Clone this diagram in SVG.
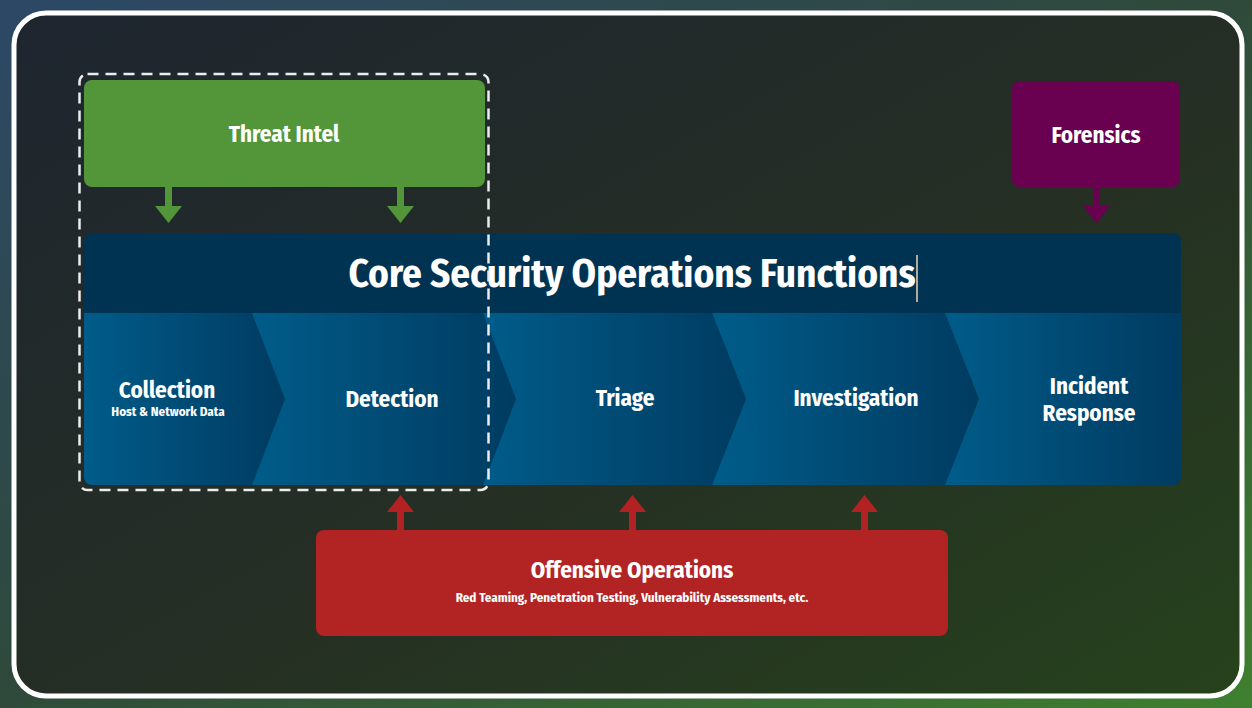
<svg xmlns="http://www.w3.org/2000/svg" width="1252" height="708" viewBox="0 0 1252 708">
  <defs>
    <linearGradient id="bgOuter" x1="0" y1="0" x2="1" y2="1">
      <stop offset="0" stop-color="#2d4866"/>
      <stop offset="0.5" stop-color="#2f4a3a"/>
      <stop offset="1" stop-color="#3f8030"/>
    </linearGradient>
    <linearGradient id="bgInner" x1="0" y1="0" x2="1" y2="1">
      <stop offset="0" stop-color="#1e2530"/>
      <stop offset="0.55" stop-color="#252f24"/>
      <stop offset="1" stop-color="#26421c"/>
    </linearGradient>
    <linearGradient id="stage" x1="0" y1="0" x2="1" y2="0">
      <stop offset="0" stop-color="#005c89"/>
      <stop offset="1" stop-color="#003b61"/>
    </linearGradient>
    <clipPath id="coreClip">
      <rect x="84" y="233" width="1097" height="252" rx="8"/>
    </clipPath>
  </defs>
  <style>
    .lbl { font-family: "Fira Sans Condensed", "Lato", "Open Sans", sans-serif; font-weight: 700; fill: #ffffff; text-anchor: middle; }
    .big { font-size: 23px; }
    .small { font-size: 13px; }
    .title { font-size: 39px; }
    .stage { fill: url(#stage); }
  </style>

  <!-- backdrop and white frame -->
  <rect x="0" y="0" width="1252" height="708" fill="url(#bgOuter)"/>
  <rect x="14" y="13" width="1228" height="683" rx="32" fill="url(#bgInner)" stroke="#ffffff" stroke-width="5"/>

  <!-- connectors -->
  <g id="connectors">
    <!-- Threat Intel feeds -->
    <rect x="165" y="186" width="7" height="21" fill="#53963a"/>
    <path d="M155,206 L182,206 L168.5,223 Z" fill="#53963a"/>
    <rect x="397" y="186" width="7" height="21" fill="#53963a"/>
    <path d="M387,206 L414,206 L400.5,223 Z" fill="#53963a"/>
    <!-- Forensics feed -->
    <rect x="1093" y="186" width="7" height="21" fill="#690050"/>
    <path d="M1083,206 L1110,206 L1096.5,223 Z" fill="#690050"/>
    <!-- Offensive Operations feeds -->
    <rect x="397" y="511" width="7" height="20" fill="#b22222"/>
    <path d="M387,512 L414,512 L400.5,495 Z" fill="#b22222"/>
    <rect x="629" y="511" width="7" height="20" fill="#b22222"/>
    <path d="M619,512 L646,512 L632.5,495 Z" fill="#b22222"/>
    <rect x="861" y="511" width="7" height="20" fill="#b22222"/>
    <path d="M851,512 L878,512 L864.5,495 Z" fill="#b22222"/>
  </g>

  <!-- core functions block -->
  <g id="core">
    <rect x="84" y="233" width="1097" height="252" rx="8" fill="#003352"/>
    <text class="lbl title" x="632" y="287">Core Security Operations Functions</text>
    <line x1="917" y1="255" x2="917" y2="302" stroke="#e6d6bf" stroke-width="1.5"/>
    <g clip-path="url(#coreClip)">
      <g id="stage-collection">
        <polygon class="stage" points="84,313 252,313 285,399 252,485 84,485"/>
        <text class="lbl big" x="167" y="398">Collection</text>
        <text class="lbl small" x="168" y="416">Host &amp; Network Data</text>
      </g>
      <g id="stage-detection">
        <polygon class="stage" points="252,313 483,313 516,399 483,485 252,485 285,399"/>
        <text class="lbl big" x="392" y="407">Detection</text>
      </g>
      <g id="stage-triage">
        <polygon class="stage" points="483,313 712,313 746,399 712,485 483,485 516,399"/>
        <text class="lbl big" x="625" y="406">Triage</text>
      </g>
      <g id="stage-investigation">
        <polygon class="stage" points="712,313 945,313 979,399 945,485 712,485 746,399"/>
        <text class="lbl big" x="856" y="406">Investigation</text>
      </g>
      <g id="stage-incident-response">
        <polygon class="stage" points="945,313 1181,313 1181,485 945,485 979,399"/>
        <text class="lbl big" x="1089" y="394">Incident</text>
        <text class="lbl big" x="1089" y="421">Response</text>
      </g>
    </g>
  </g>

  <!-- threat intel box -->
  <g id="threat-intel">
    <rect x="84" y="80" width="401" height="107" rx="8" fill="#53963a"/>
    <text class="lbl big" x="284" y="142">Threat Intel</text>
  </g>

  <!-- dashed grouping round Threat Intel, Collection and Detection -->
  <g id="intel-scope">
    <rect x="79.5" y="74" width="409" height="416" rx="8" fill="none" stroke="#ececec" stroke-width="2.5" stroke-dasharray="11 7"/>
  </g>

  <!-- forensics box -->
  <g id="forensics">
    <rect x="1012" y="81" width="168" height="106" rx="8" fill="#690050"/>
    <text class="lbl big" x="1096" y="143">Forensics</text>
  </g>

  <!-- offensive operations box -->
  <g id="offensive-operations">
    <rect x="316" y="530" width="632" height="106" rx="8" fill="#b22424"/>
    <text class="lbl big" x="632" y="578">Offensive Operations</text>
    <text class="lbl small" x="632" y="602">Red Teaming, Penetration Testing, Vulnerability Assessments, etc.</text>
  </g>
</svg>
